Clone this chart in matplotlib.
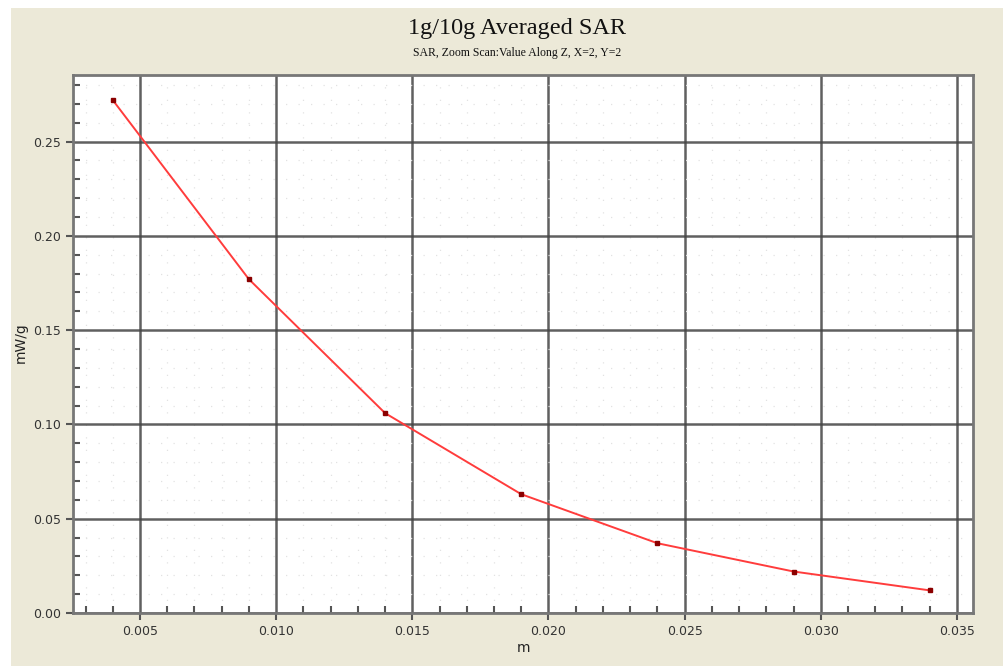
import matplotlib
matplotlib.use("Agg")
import matplotlib.pyplot as plt
from matplotlib.patches import Rectangle
from matplotlib.ticker import MultipleLocator

# SAR along Z (zoom scan)
z_m = [0.004, 0.009, 0.014, 0.019, 0.024, 0.029, 0.034]
sar = [0.272, 0.177, 0.106, 0.063, 0.037, 0.022, 0.012]

bg = "#ECE9D8"
fig = plt.figure(figsize=(10.04, 6.66), dpi=100, facecolor="white")
fig.patches.append(Rectangle((11 / 1004, 0), 1, 1 - 8 / 666, transform=fig.transFigure,
                             facecolor=bg, edgecolor="none", zorder=-10))

ax = fig.add_axes([73 / 1004, 1 - 613 / 666, 900 / 1004, 538 / 666])
ax.set_facecolor("white")

ax.plot(z_m, sar, color="#FF3C3C", lw=1.4, zorder=3)
ax.plot(z_m, sar, ls="none", marker="s", ms=3.2, color="#8B0000", zorder=4)

ax.set_xlim(0.00254, 0.03559)
ax.set_ylim(0, 0.2853)
ax.xaxis.set_major_locator(MultipleLocator(0.005))
ax.xaxis.set_minor_locator(MultipleLocator(0.001))
ax.yaxis.set_major_locator(MultipleLocator(0.05))
ax.yaxis.set_minor_locator(MultipleLocator(0.01))
ax.xaxis.set_major_formatter(lambda v, p: f"{v:.3f}")
ax.yaxis.set_major_formatter(lambda v, p: f"{v:.2f}")

ax.grid(which="major", color="#444444", lw=1.8, alpha=0.85)
ax.grid(which="minor", color="#E2E2E2", lw=0.9, ls=(0, (1, 9)))
ax.set_axisbelow(True)

for s in ax.spines.values():
    s.set_color("#777777")
    s.set_linewidth(2)

ax.tick_params(which="major", direction="out", length=5, width=1.5, color="#555555",
               labelsize=9, labelcolor="#333333")
ax.tick_params(which="minor", direction="in", length=5, width=1.5, color="#555555")

ax.set_xlabel("m", fontsize=10, color="#222222", labelpad=2)
ax.set_ylabel("mW/g", fontsize=10, color="#222222")
ax.yaxis.set_label_coords(-45 / 900, 0.502)

fig.text(0.515, 0.957, "1g/10g Averaged SAR", ha="center", va="center",
         family="Liberation Serif", fontsize=17.5, color="#111111")
fig.text(0.515, 0.920, "SAR, Zoom Scan:Value Along Z, X=2, Y=2", ha="center", va="center",
         family="Liberation Serif", fontsize=8.5, color="#111111")

fig.savefig("out.png", dpi=100, facecolor=fig.get_facecolor())
